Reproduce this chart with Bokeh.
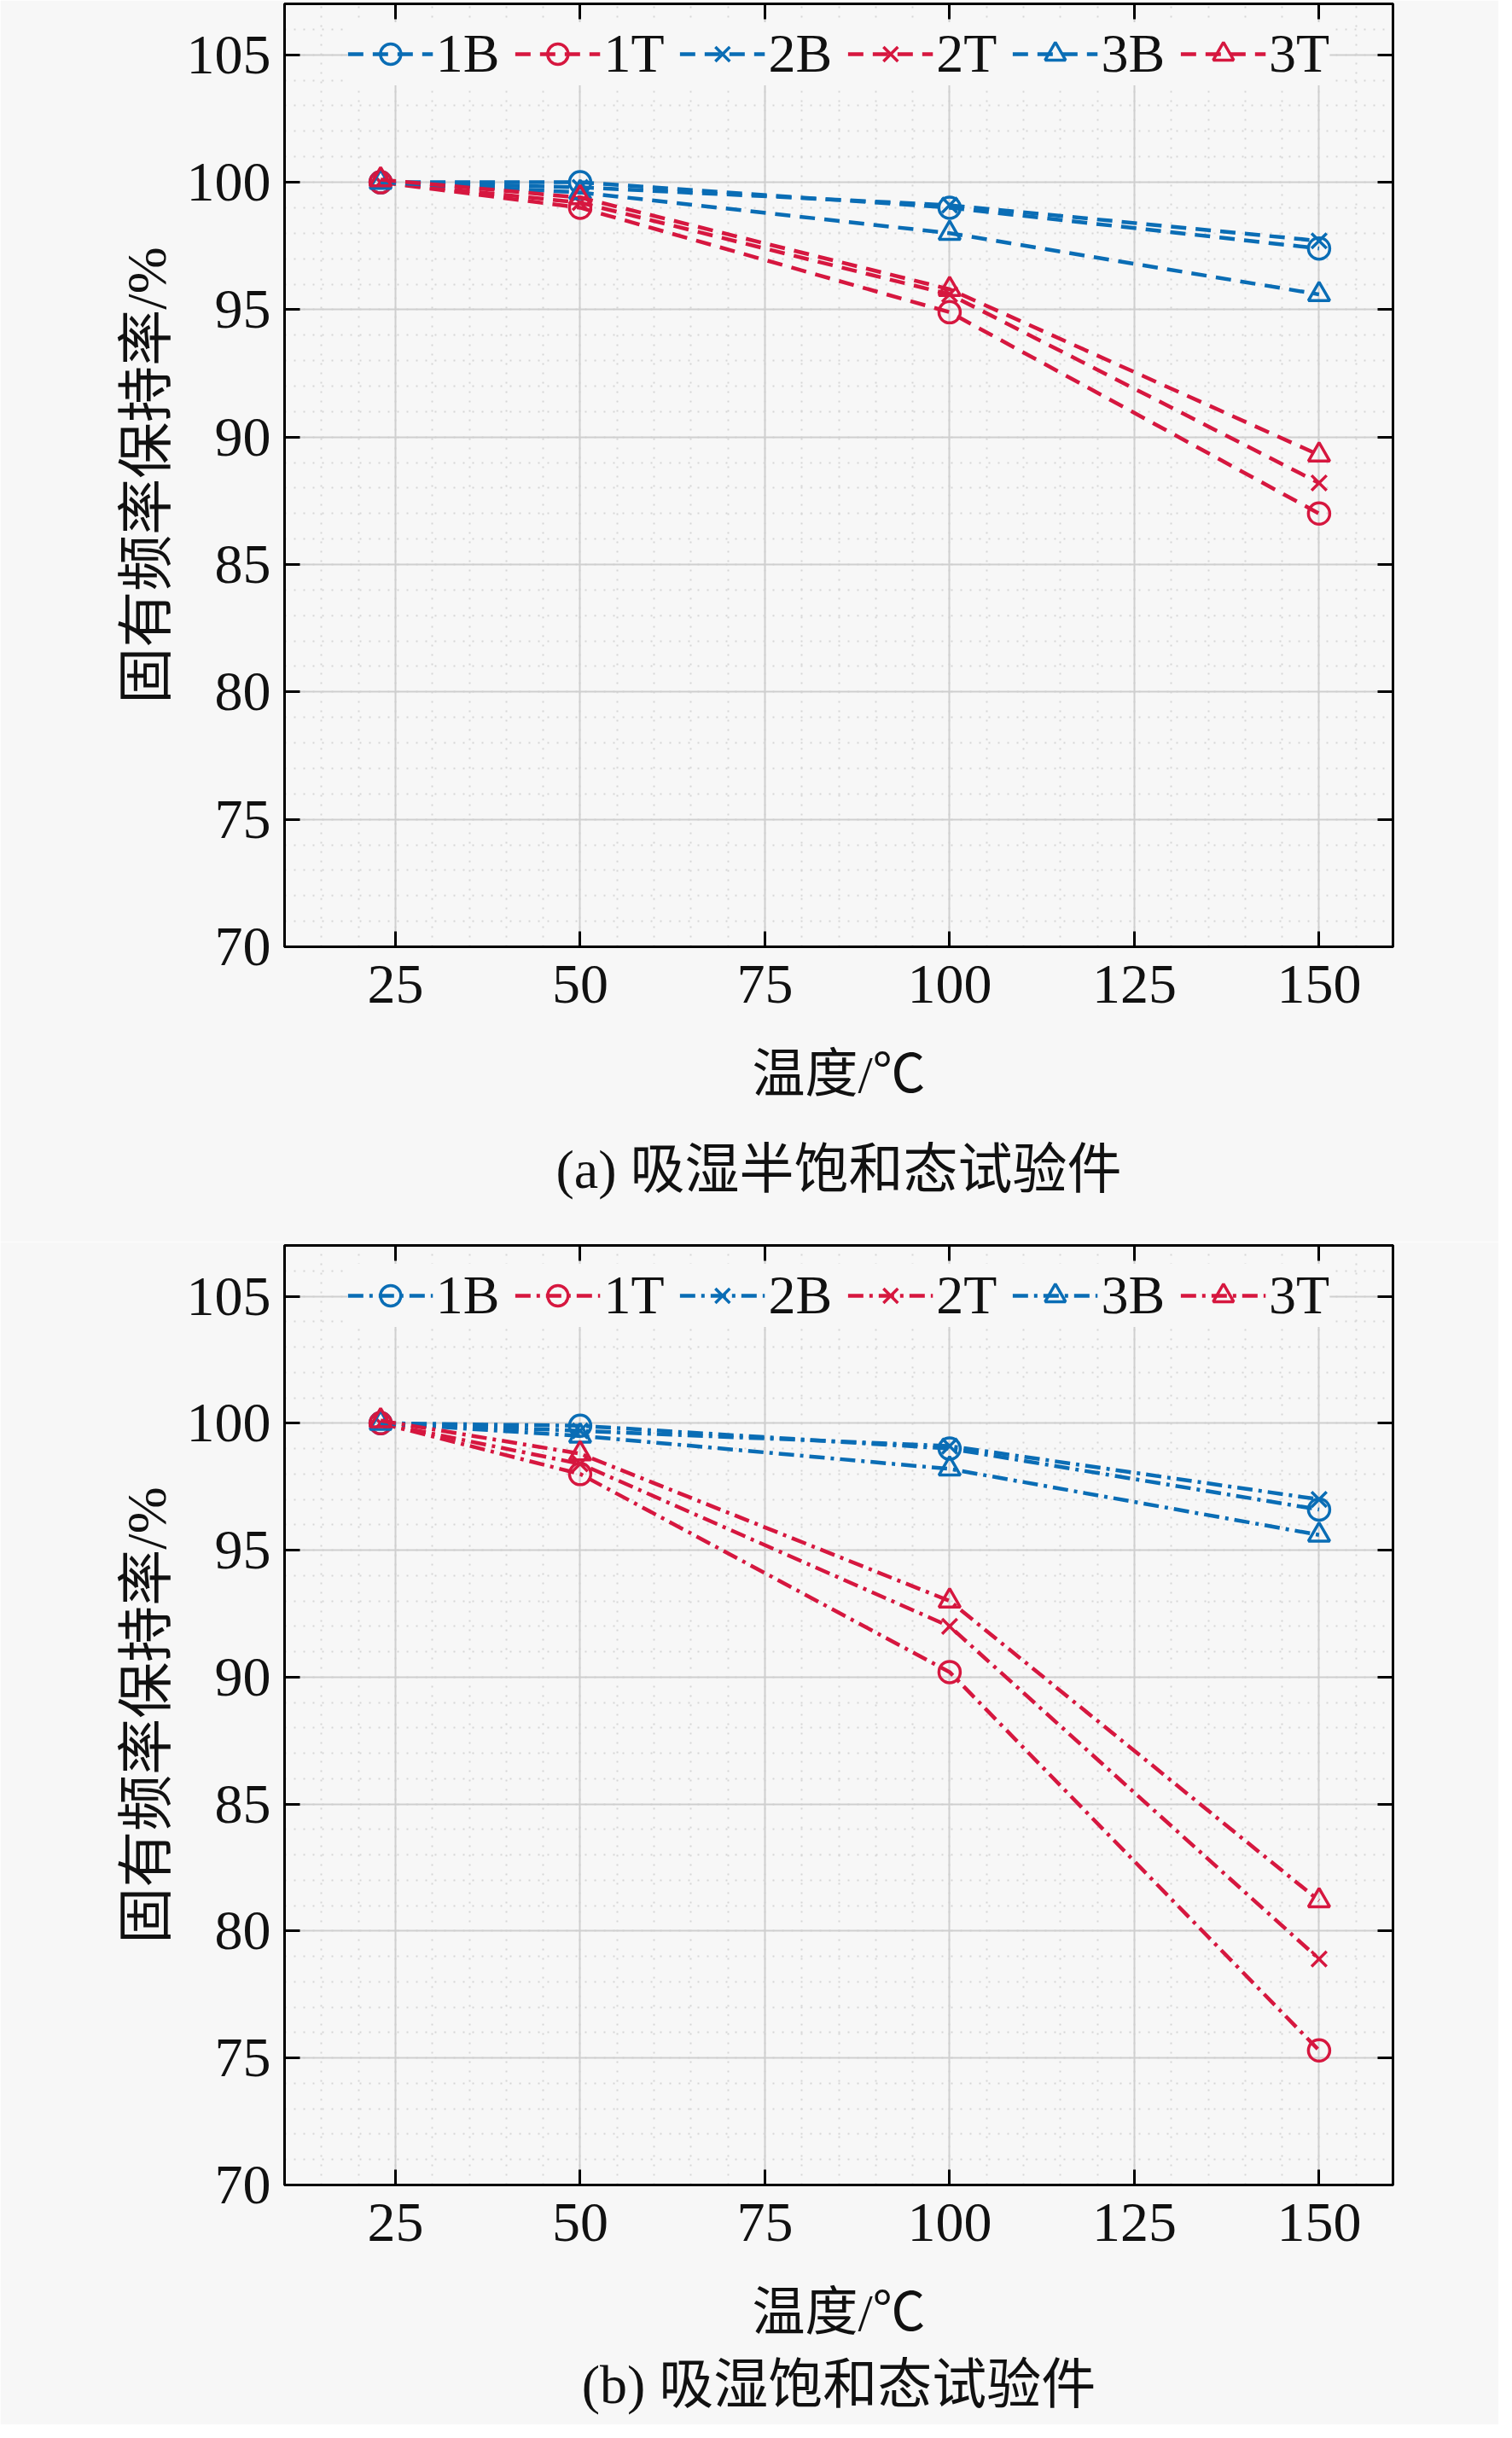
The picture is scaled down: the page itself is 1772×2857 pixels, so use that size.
from bokeh.plotting import figure
from bokeh.models import (LinearAxis, SingleIntervalTicker, Range1d, Legend,
                          LegendItem, Title)
from bokeh.layouts import column
from bokeh.embed import file_html
from bokeh.resources import INLINE

# ---------------- data ----------------
temps = [23, 50, 100, 150]
labels = ["1B", "1T", "2B", "2T", "3B", "3T"]

# (a) half-saturated specimens
a_1B = [100.0, 100.0, 99.0, 97.4]
a_1T = [100.0, 99.0, 94.9, 87.0]
a_2B = [100.0, 99.8, 99.1, 97.7]
a_2T = [100.0, 99.2, 95.6, 88.2]
a_3B = [100.0, 99.6, 98.0, 95.6]
a_3T = [100.1, 99.4, 95.8, 89.3]

# (b) saturated specimens
b_1B = [100.0, 99.9, 99.0, 96.6]
b_1T = [100.0, 98.0, 90.2, 75.3]
b_2B = [100.0, 99.7, 99.1, 97.0]
b_2T = [100.0, 98.4, 92.0, 78.9]
b_3B = [100.0, 99.5, 98.2, 95.6]
b_3T = [100.1, 98.8, 93.0, 81.2]

x_ticks = [25, 50, 75, 100, 125, 150]
y_ticks = [70, 75, 80, 85, 90, 95, 100, 105]

xlabel = "温度/℃"
ylabel = "固有频率保持率/%"
cap_a = "(a) 吸湿半饱和态试验件"
cap_b = "(b) 吸湿饱和态试验件"

# ---------------- style ----------------
BG = "#f7f7f7"
BLUE = "#0A6DB5"
RED = "#D6173F"
FONT = "'Liberation Serif', 'Noto Sans CJK SC'"
colors = [BLUE, RED, BLUE, RED, BLUE, RED]
markers = ["circle", "circle", "x", "x", "triangle", "triangle"]


def make(series, dash, caption, height, bottom, cap_align, cap_standoff):
    p = figure(width=1756, height=height, x_range=Range1d(10, 160),
               y_range=Range1d(70, 107), output_backend="svg",
               toolbar_location=None, min_border_left=333,
               min_border_right=124, min_border_top=0,
               min_border_bottom=bottom,
               background_fill_color=BG, border_fill_color=BG)
    p.outline_line_color = "black"
    p.outline_line_width = 3

    xt = SingleIntervalTicker(interval=25, num_minor_ticks=5)
    yt = SingleIntervalTicker(interval=5, num_minor_ticks=5)
    p.xaxis.ticker = xt
    p.yaxis.ticker = yt
    p.xgrid.ticker = xt
    p.ygrid.ticker = yt
    for g in (p.xgrid, p.ygrid):
        g.grid_line_color = "#cfcfcf"
        g.grid_line_width = 2
        g.minor_grid_line_color = "#d6d6d6"
        g.minor_grid_line_width = 2
        g.minor_grid_line_dash = "2 9"

    for ax in (p.xaxis, p.yaxis):
        ax.axis_line_width = 3
        ax.major_tick_in = 18
        ax.major_tick_out = 0
        ax.major_tick_line_width = 3
        ax.minor_tick_line_color = None
        ax.major_label_text_font = FONT
        ax.major_label_text_font_size = "66px"
        ax.major_label_text_color = "#111111"
        ax.axis_label_text_font = FONT
        ax.axis_label_text_font_style = "normal"
        ax.axis_label_text_color = "#111111"
    p.xaxis.axis_label = xlabel
    p.yaxis.axis_label = ylabel
    p.xaxis.axis_label_text_font_size = "62px"
    p.yaxis.axis_label_text_font_size = "66px"
    p.xaxis.major_label_standoff = 18
    p.xaxis.axis_label_standoff = 47
    p.yaxis.major_label_standoff = 12
    p.yaxis.axis_label_standoff = 8

    for loc in ("right", "above"):
        ax = LinearAxis(ticker=yt if loc == "right" else xt)
        ax.axis_line_width = 3
        ax.major_tick_in = 18
        ax.major_tick_out = 0
        ax.major_tick_line_width = 3
        ax.minor_tick_line_color = None
        ax.major_label_text_font_size = "1px"
        ax.major_label_text_color = None
        ax.major_label_standoff = 0
        p.add_layout(ax, loc)

    items = []
    for lab, ys, c, m in zip(labels, series, colors, markers):
        lr = p.line(temps, ys, line_color=c, line_width=4.5, line_dash=dash)
        sr = p.scatter(temps, ys, marker=m, size=25, line_color=c,
                       line_width=3.5, fill_color=None)
        items.append(LegendItem(label=lab, renderers=[lr, sr]))

    leg = Legend(items=items, orientation="horizontal", location="top_center",
                 label_text_font=FONT, label_text_font_size="64px",
                 label_text_color="#111111",
                 glyph_width=100, glyph_height=60, label_standoff=4,
                 spacing=18, padding=12, margin=22,
                 background_fill_color=BG, background_fill_alpha=1.0,
                 border_line_color=None)
    p.add_layout(leg)

    t = Title(text=caption, align="center", vertical_align=cap_align,
              text_font=FONT, text_font_size="64px", text_font_style="normal",
              text_color="#111111", standoff=cap_standoff)
    p.add_layout(t, "below")
    return p


pa = make([a_1B, a_1T, a_2B, a_2T, a_3B, a_3T], "18 11", cap_a,
          1455, 346, "top", 78)
pb = make([b_1B, b_1T, b_2B, b_2T, b_3B, b_3T], "18 7 4 7", cap_b,
          1386, 281, "bottom", 20)

layout = column(pa, pb, spacing=0)

open("out.html", "w").write(file_html(layout, INLINE))
